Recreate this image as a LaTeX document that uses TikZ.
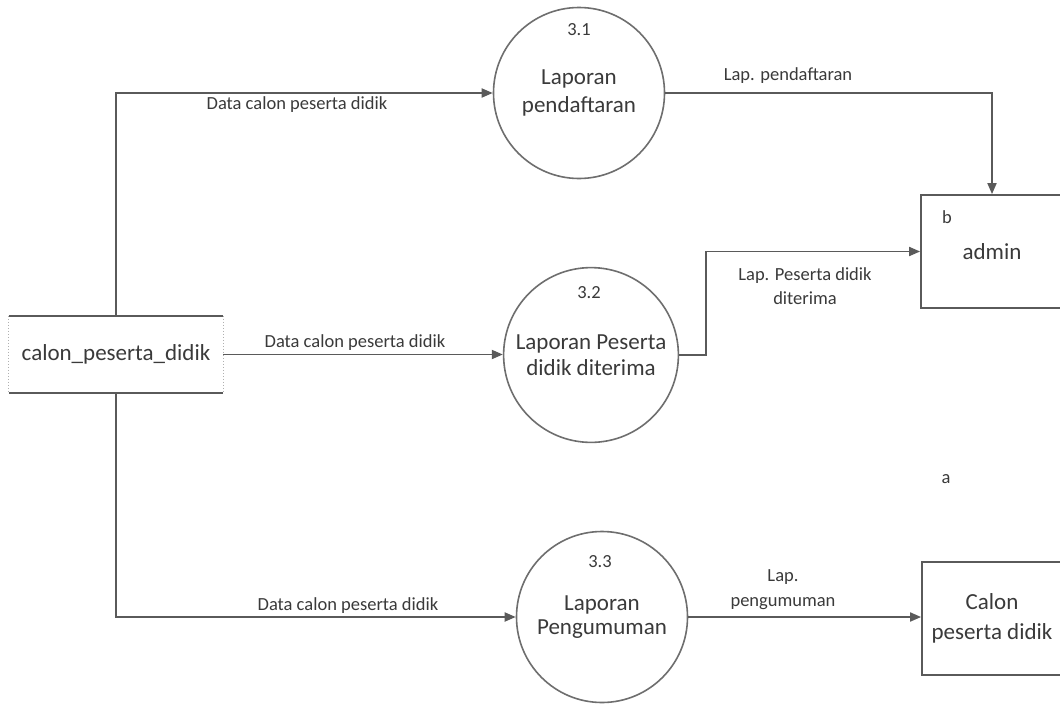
\documentclass[tikz,border=0pt]{standalone}
\usepackage{fontspec}
\setmainfont{Carlito}
\usetikzlibrary{arrows.meta,calc}
\definecolor{inkline}{HTML}{5A5A5A}
\definecolor{inktext}{HTML}{3A3A3A}
\definecolor{ringline}{HTML}{6E6E6E}
\definecolor{dotline}{HTML}{B0B0B0}
\tikzset{
  bigtext/.style={font=\fontsize{23}{27}\selectfont, text=inktext},
  smalltext/.style={font=\fontsize{18.5}{24}\selectfont, text=inktext, inner sep=0pt},
  process/.style={circle, draw=ringline, line width=1.6pt, minimum size=171pt,
    inner sep=0pt, align=center, bigtext},
  entity/.style={rectangle, draw=inkline, line width=1.8pt, inner sep=0pt,
    align=center, bigtext},
  flow/.style={draw=inkline, line width=1.8pt,
    -{Triangle[length=11pt,width=9pt]}},
}
\begin{document}
\begin{tikzpicture}[x=1pt,y=-1pt]
\useasboundingbox (0,0) rectangle (1060,704);
\fill[white] (0,0) rectangle (1060,704);
\clip (0,0) rectangle (1060,704);

% external entity on the left: solid top and bottom, dotted sides
\node[bigtext, minimum width=214pt, minimum height=77pt, inner sep=0pt]
  (ext) at (116,354.5) {calon\_peserta\_didik};
\draw[inkline, line width=1.8pt] (ext.north west) -- (ext.north east);
\draw[inkline, line width=1.8pt] (ext.south west) -- (ext.south east);
\draw[dotline, line width=1pt, dotted] (ext.north west) -- (ext.south west);
\draw[dotline, line width=1pt, dotted] (ext.north east) -- (ext.south east);

% processes
\node[process] (p31) at (579,93)
  {\begin{minipage}{150pt}\centering\setlength{\baselineskip}{28pt}Laporan\\pendaftaran\end{minipage}};
\node[smalltext] (n31) at (579,30) {3.1};

\node[process] (p32) at (591,355)
  {\begin{minipage}{170pt}\centering\setlength{\baselineskip}{26pt}Laporan Peserta\\didik diterima\end{minipage}};
\node[smalltext] (n32) at (589,293) {3.2};

\node[process] (p33) at (602,617)
  {\begin{minipage}{150pt}\centering\setlength{\baselineskip}{24pt}Laporan\\Pengumuman\end{minipage}};
\node[smalltext] (n33) at (600,562) {3.3};

% entities on the right
\node[entity, minimum width=142pt, minimum height=113pt] (admin) at (992,251.5) {admin};
\node[smalltext] (lb) at (947,217) {b};

\node[entity, minimum width=140pt, minimum height=113pt] (calon) at (992,618.5)
  {\begin{minipage}{130pt}\centering\setlength{\baselineskip}{30pt}Calon\\peserta didik\end{minipage}};

\node[smalltext] (la) at (946,479) {a};

% data flows
\draw[flow] (ext.north) |- (p31.west);
\node[smalltext] (d1) at (297,105) {Data calon peserta didik};

\draw[flow] (ext.east) -- (ext.east -| p32.west);
\node[smalltext] (d2) at (355,343) {Data calon peserta didik};

\draw[flow] (ext.south) |- (p33.west);
\node[smalltext] (d3) at (348,606) {Data calon peserta didik};

\draw[flow] (p31.east) -| (admin.north);
\node[smalltext] (d4) at (788,76) {Lap. pendaftaran};

\coordinate (bend) at ($(p32.east)+(26.5,0)$);
\draw[flow] (p32.east) -- (bend) |- (admin.west);
\node[smalltext, align=center] (d5) at (805,286)
  {\begin{minipage}{160pt}\centering\setlength{\baselineskip}{24pt}Lap. Peserta didik\\diterima\end{minipage}};

\draw[flow] (p33.east) -- (p33.east -| calon.west);
\node[smalltext] (d6) at (783,589.5)
  {\begin{minipage}{120pt}\centering\setlength{\baselineskip}{25pt}Lap.\\pengumuman\end{minipage}};
\end{tikzpicture}
\end{document}
